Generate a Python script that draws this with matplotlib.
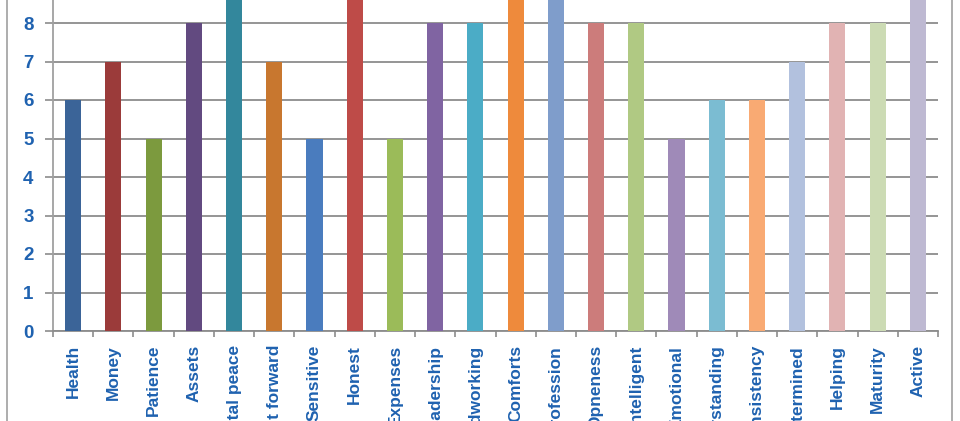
import matplotlib.pyplot as plt
from matplotlib.lines import Line2D

# data (bars above 8.6 are cut off in the picture, 9 is a guess)
categories = ['Health', 'Money', 'Patience', 'Assets', 'Mental peace', 'Straight forward',
              'Sensitive', 'Honest', 'Expenses', 'Leadership', 'Hardworking', 'Comforts',
              'Profession', 'Opneness', 'Intelligent', 'Emotional', 'Understanding',
              'Consistency', 'Determined', 'Helping', 'Maturity', 'Active']
values = [6, 7, 5, 8, 9, 7, 5, 9, 5, 8, 8, 9, 9, 8, 8, 5, 6, 6, 7, 8, 8, 9]
colors = ['#3B6498', '#9B3B3A', '#7C9A3E', '#624A80', '#33879C', '#C8772F',
          '#4A7CBE', '#BE4B48', '#9BBB59', '#8064A2', '#4BACC6', '#EE8A3C',
          '#7F9DCB', '#CC7C7B', '#B0C983', '#9F8AB8', '#7BBCD2', '#F9AA73',
          '#B2C1DE', '#E1B3B3', '#CCDBB4', '#BEB9D2']

text_blue = '#1F62B0'
grid_gray = '#8C8C8C'

fig = plt.figure(figsize=(9.6, 4.21), dpi=100)
# axes runs past the top edge of the figure, like the cropped original
ax = fig.add_axes([53 / 960, 90 / 421, 885 / 960, 385 / 421])

x = list(range(len(categories)))
ax.bar(x, values, width=0.4, color=colors, zorder=3)

ax.set_xlim(-0.5, len(categories) - 0.5)
ax.set_ylim(0, 10)
ax.set_yticks(range(0, 11))
ax.yaxis.grid(True, color=grid_gray, linewidth=1.3, zorder=0)

for side in ['top', 'right']:
    ax.spines[side].set_visible(False)
ax.spines['left'].set_color('#A0A0A0')
ax.spines['bottom'].set_color(grid_gray)
ax.spines['left'].set_linewidth(1.3)
ax.spines['bottom'].set_linewidth(1.3)

# major x ticks at category borders, labels on minor ticks at centers
ax.set_xticks([i - 0.5 for i in range(len(categories) + 1)])
ax.set_xticklabels([])
ax.set_xticks(x, minor=True)
ax.set_xticklabels(categories, minor=True, rotation=90, fontsize=12.5,
                   fontweight='bold', color=text_blue, family='Liberation Sans')
ax.tick_params(axis='x', which='major', length=4, color=grid_gray, width=1.2)
ax.tick_params(axis='x', which='minor', length=0, pad=10)
ax.tick_params(axis='y', length=6, color=grid_gray, width=1.2, pad=8)
for lab in ax.get_yticklabels():
    lab.set_fontsize(13.5)
    lab.set_fontweight('bold')
    lab.set_color(text_blue)
    lab.set_family('Liberation Sans')

# chart area border
fig.add_artist(Line2D([7 / 960, 7 / 960], [0, 1], color='#A0A0A0', linewidth=1.2))
fig.add_artist(Line2D([952 / 960, 952 / 960], [0, 1], color='#A0A0A0', linewidth=1.2))

fig.savefig('out.png', dpi=100)
